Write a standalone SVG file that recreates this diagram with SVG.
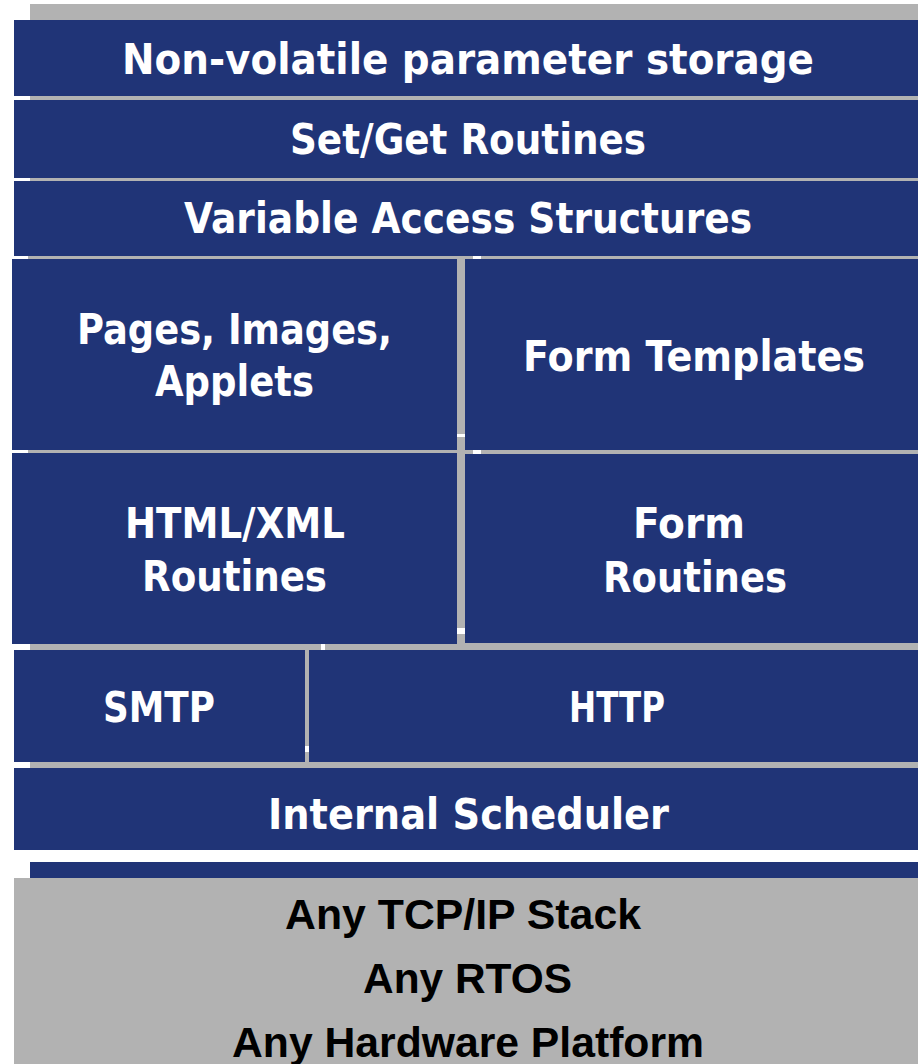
<svg xmlns="http://www.w3.org/2000/svg" width="918" height="1064" viewBox="0 0 918 1064">
<style>
.blk{fill:#203477}
.gry{fill:#b2b2b2}
.lbl{font-family:"DejaVu Sans","Liberation Sans",sans-serif;font-weight:bold;font-size:42px;fill:#ffffff}
.dk{font-family:"Liberation Sans",Arial,sans-serif;font-weight:bold;font-size:42px;fill:#000000}
</style>
<rect width="918" height="1064" fill="#ffffff"/>
<g id="shadows">
<rect class="gry" x="30" y="4" width="904" height="76"/>
<rect class="gry" x="30" y="84" width="904" height="78"/>
<rect class="gry" x="30" y="165" width="904" height="75"/>
<rect class="gry" x="28" y="243" width="445" height="191"/>
<rect class="gry" x="481" y="243" width="453" height="191"/>
<rect class="gry" x="28" y="437" width="445" height="191"/>
<rect class="gry" x="481" y="438" width="453" height="189"/>
<rect class="gry" x="30" y="634" width="291" height="112"/>
<rect class="gry" x="325" y="634" width="609" height="112"/>
<rect class="gry" x="30" y="752" width="904" height="82"/>
<rect class="blk" x="30" y="862" width="904" height="220"/>
</g>
<g id="nonvolatile">
<rect class="blk" x="14" y="20" width="904" height="76"/>
<text class="lbl" x="122" y="74" textLength="692" lengthAdjust="spacingAndGlyphs">Non-volatile parameter storage</text>
</g>
<g id="setget">
<rect class="blk" x="14" y="100" width="904" height="78"/>
<text class="lbl" x="290" y="154" textLength="356" lengthAdjust="spacingAndGlyphs">Set/Get Routines</text>
</g>
<g id="variable">
<rect class="blk" x="14" y="181" width="904" height="75"/>
<text class="lbl" x="184" y="233" textLength="568" lengthAdjust="spacingAndGlyphs">Variable Access Structures</text>
</g>
<g id="pages">
<rect class="blk" x="12" y="259" width="445" height="191"/>
<text class="lbl" x="77" y="344" textLength="315" lengthAdjust="spacingAndGlyphs">Pages, Images,</text>
<text class="lbl" x="155" y="396" textLength="159" lengthAdjust="spacingAndGlyphs">Applets</text>
</g>
<g id="formtemplates">
<rect class="blk" x="465" y="259" width="453" height="191"/>
<text class="lbl" x="523" y="371" textLength="342" lengthAdjust="spacingAndGlyphs">Form Templates</text>
</g>
<g id="htmlxml">
<rect class="blk" x="12" y="453" width="445" height="191"/>
<text class="lbl" x="125" y="538" textLength="220" lengthAdjust="spacingAndGlyphs">HTML/XML</text>
<text class="lbl" x="142" y="591" textLength="185" lengthAdjust="spacingAndGlyphs">Routines</text>
</g>
<g id="formroutines">
<rect class="blk" x="465" y="454" width="453" height="189"/>
<text class="lbl" x="633" y="538" textLength="112" lengthAdjust="spacingAndGlyphs">Form</text>
<text class="lbl" x="603" y="592" textLength="184" lengthAdjust="spacingAndGlyphs">Routines</text>
</g>
<g id="smtp">
<rect class="blk" x="14" y="650" width="291" height="112"/>
<text class="lbl" x="103" y="722" textLength="112" lengthAdjust="spacingAndGlyphs">SMTP</text>
</g>
<g id="http">
<rect class="blk" x="309" y="650" width="609" height="112"/>
<text class="lbl" x="569" y="722" textLength="96" lengthAdjust="spacingAndGlyphs">HTTP</text>
</g>
<g id="scheduler">
<rect class="blk" x="14" y="768" width="904" height="82"/>
<text class="lbl" x="268" y="829" textLength="401" lengthAdjust="spacingAndGlyphs">Internal Scheduler</text>
</g>
<g id="platform">
<rect class="gry" x="14" y="878" width="904" height="186"/>
<text class="dk" x="285" y="929" textLength="356" lengthAdjust="spacingAndGlyphs">Any TCP/IP Stack</text>
<text class="dk" x="363" y="993" textLength="209" lengthAdjust="spacingAndGlyphs">Any RTOS</text>
<text class="dk" x="232" y="1057" textLength="472" lengthAdjust="spacingAndGlyphs">Any Hardware Platform</text>
</g>
</svg>
